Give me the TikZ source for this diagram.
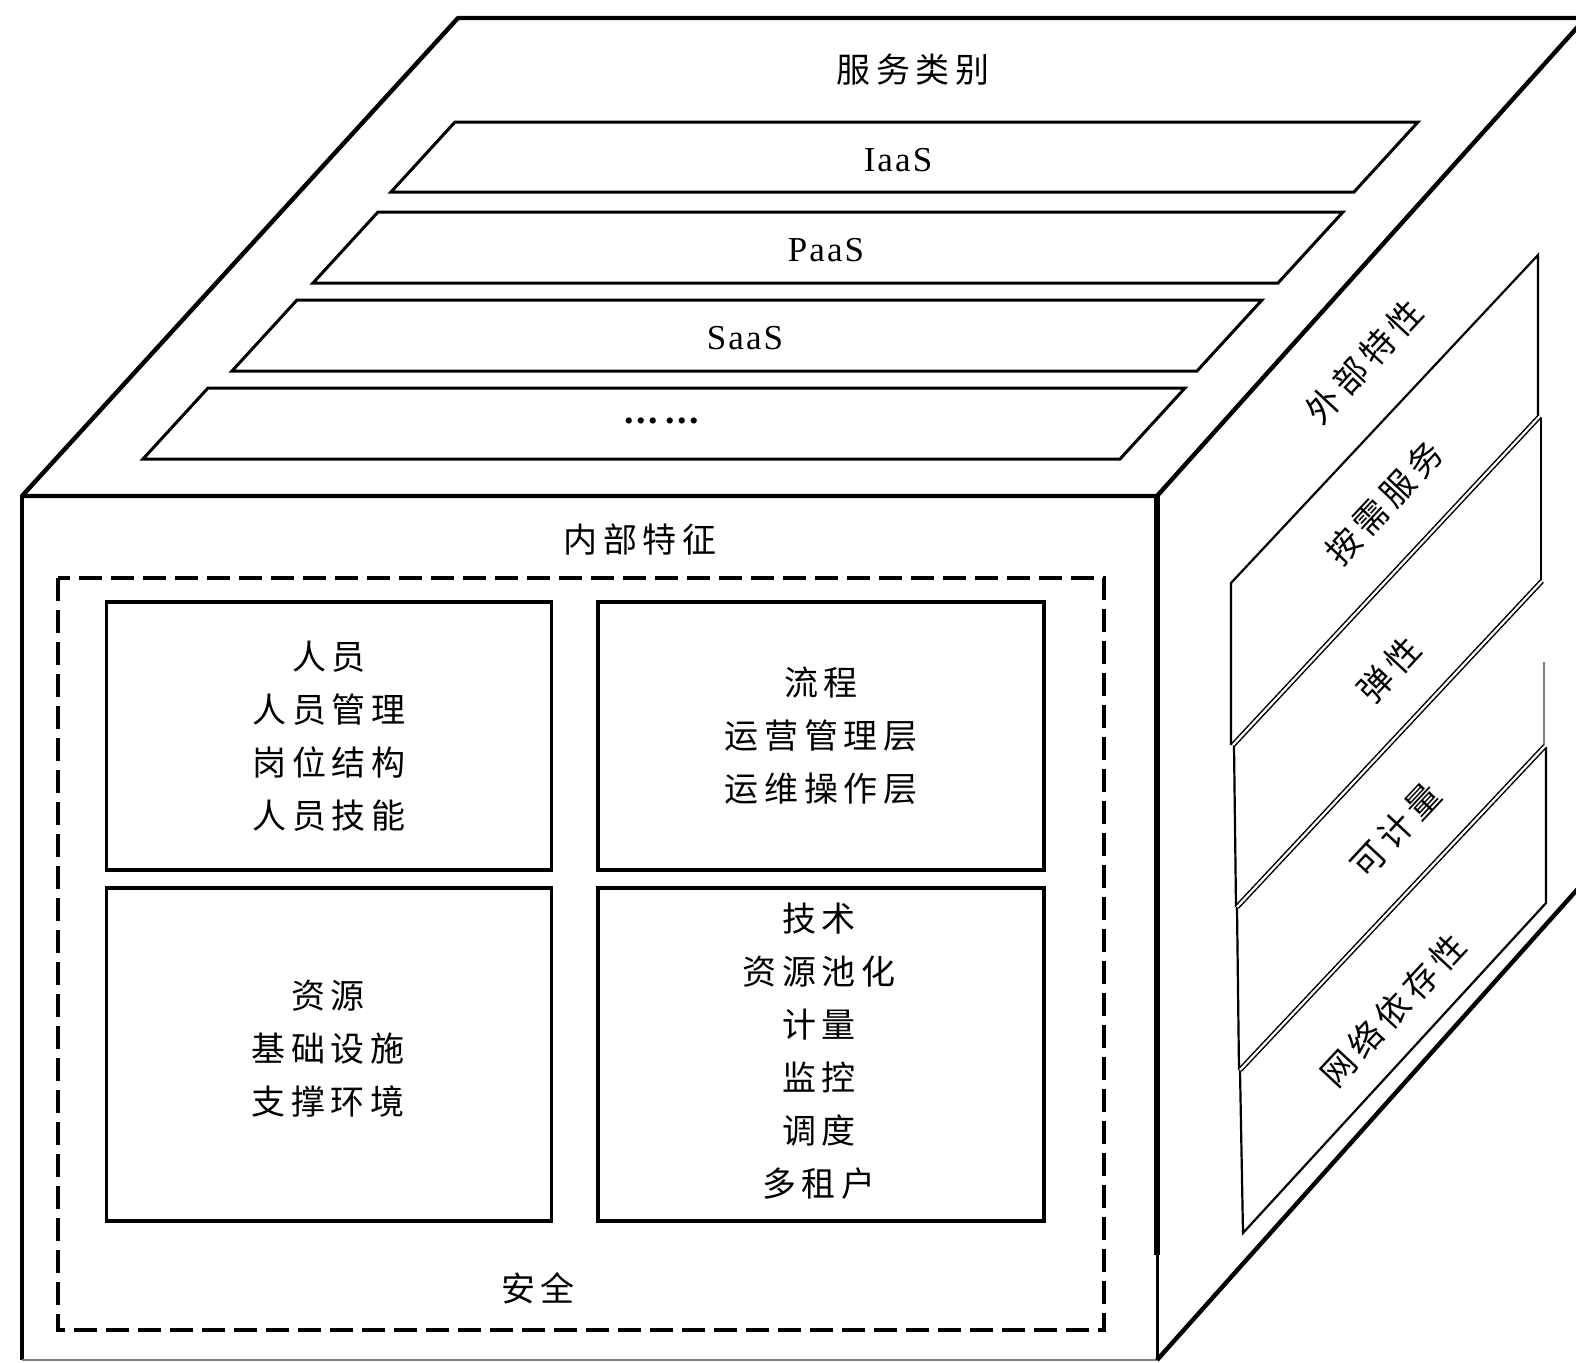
\documentclass[tikz,border=0pt]{standalone}
\usepackage{fontspec}
\setmainfont{Liberation Serif}[LetterSpace=6]
\newfontfamily\cjk{Noto Sans CJK SC}[LetterSpace=17]
\tikzset{
  edge/.style={line width=2.2pt, line join=round},
  strip/.style={line width=1.5pt, line join=miter},
  sline/.style={line width=1.1pt},
  divline/.style={line width=0.75pt, double, double distance=1.1pt},
  box/.style={draw, line width=1.6pt},
  lbl/.style={font=\cjk\fontsize{17pt}{26.5pt}\selectfont, align=center, inner sep=0pt},
  latin/.style={font=\fontsize{17.5pt}{20pt}\selectfont, inner sep=0pt},
  side/.style={lbl, rotate=47},
  secline/.style={line width=2pt, dash pattern=on 11.5pt off 4.5pt},
}
\begin{document}
\begin{tikzpicture}[x=0.5pt,y=-0.5pt]
\useasboundingbox (0,0) rectangle (1576,1362);
\clip (0,0) rectangle (1576,1362);

% ---- cube outline
\coordinate (ctl) at (458,18);
\coordinate (ftl) at (22,496);
\coordinate (ftr) at (1157,496);
\coordinate (fbr) at (1157,1360);
\coordinate (fbl) at (22,1360);
\coordinate (ctr) at (1600,18);
\coordinate (ctd) at (1600,2);
\coordinate (cbd) at (1600,864);
\coordinate (fmid) at (1157,1255);
\draw[edge] (ctr) -- (ctl) -- (ftl) -- (ftr);
\draw[edge] (ftr) -- (ctd);
\draw[edge] (ftl) -- (fbl);
\draw[line width=3pt] (ftr) -- (fmid);
\draw[line width=1.5pt] (fmid) -- (fbr);
\draw[line width=0.8pt, gray] (fbl) -- (fbr);
\draw[edge] (fbr) -- (cbd);

% ---- top face
\node[lbl] (svc) at (913,70) {服务类别};
\draw[strip] (455,122) -- (1418,122) -- (1354,192) -- (391,192) -- cycle;
\node[latin] (iaas) at (898,160) {IaaS};
\draw[strip] (378,212) -- (1343,212) -- (1278,283) -- (313,283) -- cycle;
\node[latin] (paas) at (826,250) {PaaS};
\draw[strip] (297,300) -- (1262,300) -- (1197,371) -- (232,371) -- cycle;
\node[latin] (saas) at (745,338) {SaaS};
\draw[strip] (208,388) -- (1185,388) -- (1120,459) -- (143,459) -- cycle;
\node[latin, font=\bfseries\fontsize{19pt}{20pt}\selectfont] (more) at (662,421) {...\hspace{4pt}...};

% ---- front face
\node[lbl] (inner) at (640,540) {内部特征};
\draw[secline] (58,578) rectangle (1104,1330);
\node[lbl] (sec) at (538,1288) {安全};

\node[box, minimum width=222.5pt, minimum height=134pt] (people) at (329,736) {};
\node[lbl] at (people.center) {人员\\人员管理\\岗位结构\\人员技能};
\node[box, minimum width=223pt, minimum height=134pt] (proc) at (821,736) {};
\node[lbl] at (proc.center) {流程\\运营管理层\\运维操作层};
\node[box, minimum width=222.5pt, minimum height=166.5pt] (res) at (329,1054.5) {};
\node[lbl] at (328,1049) {资源\\基础设施\\支撑环境};
\node[box, minimum width=223pt, minimum height=166.5pt] (tech) at (821,1054.5) {};
\node[lbl] at (819,1051) {技术\\资源池化\\计量\\监控\\调度\\多租户};

% ---- right face
\draw[sline] (1231,745) -- (1231,583) -- (1538,255) -- (1538,415);
\draw[sline] (1541,418) -- (1541,580);
\draw[sline] (1234,745) -- (1236,907);
\draw[sline, gray] (1544,662) -- (1544,745);
\draw[sline] (1237,907) -- (1239,1070);
\draw[sline] (1546,747) -- (1546,903) -- (1243,1233) -- (1240,1070);
\draw[divline] (1540,416) -- (1233,745);
\draw[divline] (1542,581) -- (1237,907);
\draw[divline] (1545,746) -- (1240,1070);

\node[side] (ext) at (1364,362) {外部特性};
\node[side] (ondemand) at (1384,503) {按需服务};
\node[side] (elastic) at (1389,670) {弹性};
\node[side] (measure) at (1396,830) {可计量};
\node[side] (network) at (1393,1010) {网络依存性};
\end{tikzpicture}
\end{document}
